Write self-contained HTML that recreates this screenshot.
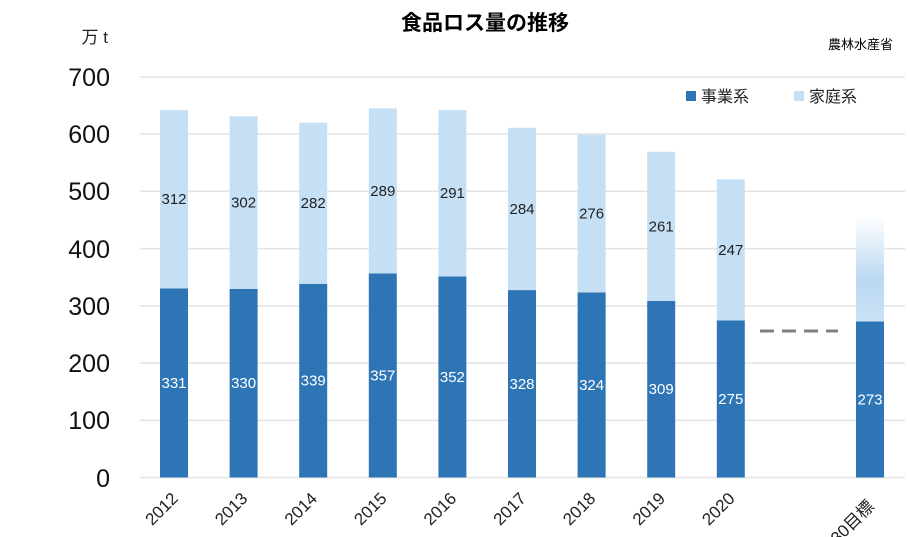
<!DOCTYPE html>
<html><head><meta charset="utf-8"><style>
html,body{margin:0;padding:0;background:#fff;width:910px;height:537px;overflow:hidden}
text{font-family:"Liberation Sans","Noto Sans CJK JP",sans-serif}
</style></head><body>
<svg width="910" height="537" viewBox="0 0 910 537" xmlns="http://www.w3.org/2000/svg">
<defs>
<linearGradient id="g" x1="0" y1="0" x2="0" y2="1">
<stop offset="0" stop-color="#ffffff"/>
<stop offset="0.6" stop-color="#bcd9f2"/>
<stop offset="1" stop-color="#c9e1f6"/>
</linearGradient>
</defs>
<text x="485" y="30" text-anchor="middle" font-size="21" font-weight="bold" fill="#000">食品ロス量の推移</text>
<text x="893" y="49" text-anchor="end" font-size="13" fill="#000">農林水産省</text>
<text x="108" y="43" text-anchor="end" font-size="17" fill="#222">万 t</text>
<g stroke="#e3e3e3" stroke-width="1.5">
<line x1="140" x2="905" y1="77" y2="77"/><line x1="140" x2="905" y1="134" y2="134"/>
<line x1="140" x2="905" y1="191.3" y2="191.3"/><line x1="140" x2="905" y1="248.6" y2="248.6"/>
<line x1="140" x2="905" y1="305.9" y2="305.9"/><line x1="140" x2="905" y1="363.1" y2="363.1"/>
<line x1="140" x2="905" y1="420.4" y2="420.4"/><line x1="140" x2="905" y1="477.5" y2="477.5"/>
</g>
<g font-size="25" fill="#111" text-anchor="end">
<text x="110" y="86">700</text><text x="110" y="143">600</text><text x="110" y="200">500</text>
<text x="110" y="258">400</text><text x="110" y="315">300</text><text x="110" y="372">200</text>
<text x="110" y="429">100</text><text x="110" y="487">0</text>
</g>
<rect x="686" y="91" width="10" height="10" fill="#2e75b6"/>
<text x="701" y="102" font-size="16" fill="#222">事業系</text>
<rect x="794" y="91" width="10" height="10" fill="#c5e0f5"/>
<text x="809" y="102" font-size="16" fill="#222">家庭系</text>
<g id="bars"></g>
<line x1="760" x2="838" y1="331" y2="331" stroke="#7f7f7f" stroke-width="3" stroke-dasharray="14,8"/>
</svg>
<script>
const d=[[2012,331,312],[2013,330,302],[2014,339,282],[2015,357,289],[2016,352,291],[2017,328,284],[2018,324,276],[2019,309,261],[2020,275,247]];
const s=400/700,y0=477.5;let h='';
d.forEach((r,i)=>{const c=174+i*69.6,a=r[1]*s,b=r[2]*s;
h+=`<rect x="${c-14}" y="${y0-a}" width="28" height="${a}" fill="#2e75b6"/>`;
h+=`<rect x="${c-14}" y="${y0-a-b}" width="28" height="${b}" fill="#c5e0f5"/>`;
h+=`<text x="${c}" y="${y0-a/2+5}" text-anchor="middle" font-size="15" fill="#fff">${r[1]}</text>`;
h+=`<text x="${c}" y="${y0-a-b/2+5}" text-anchor="middle" font-size="15" fill="#222">${r[2]}</text>`;
h+=`<text transform="translate(${c+5},${y0+22}) rotate(-45)" text-anchor="end" font-size="17" fill="#222">${r[0]}</text>`;});
const c=870,a=273*s;
h+=`<rect x="${c-14}" y="215" width="28" height="${y0-a-215}" fill="url(#g)"/>`;
h+=`<rect x="${c-14}" y="${y0-a}" width="28" height="${a}" fill="#2e75b6"/>`;
h+=`<text x="${c}" y="${y0-a/2+5}" text-anchor="middle" font-size="15" fill="#fff">273</text>`;
h+=`<text transform="translate(${c+5},${y0+30}) rotate(-45)" text-anchor="end" font-size="17" fill="#222">2030目標</text>`;
document.getElementById('bars').innerHTML=h;
</script>
</body></html>
